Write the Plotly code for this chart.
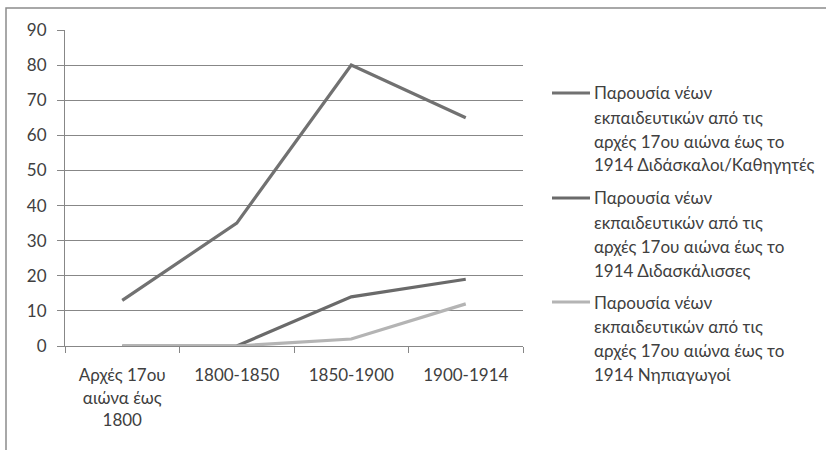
import plotly.graph_objects as go

categories = ["Αρχές 17ου<br>αιώνα έως<br>1800", "1800-1850", "1850-1900", "1900-1914"]
series_names = [
    "Παρουσία νέων εκπαιδευτικών από τις αρχές 17ου αιώνα έως το 1914 Διδάσκαλοι/Καθηγητές",
    "Παρουσία νέων εκπαιδευτικών από τις αρχές 17ου αιώνα έως το 1914 Διδασκάλισσες",
    "Παρουσία νέων εκπαιδευτικών από τις αρχές 17ου αιώνα έως το 1914 Νηπιαγωγοί",
]
legend_lines = [
    ["Παρουσία νέων", "εκπαιδευτικών από τις", "αρχές 17ου αιώνα έως το", "1914 Διδάσκαλοι/Καθηγητές"],
    ["Παρουσία νέων", "εκπαιδευτικών από τις", "αρχές 17ου αιώνα έως το", "1914 Διδασκάλισσες"],
    ["Παρουσία νέων", "εκπαιδευτικών από τις", "αρχές 17ου αιώνα έως το", "1914 Νηπιαγωγοί"],
]
teachers = [13, 35, 80, 65]
female_teachers = [0, 0, 14, 19]
kindergarten = [0, 0, 2, 12]
y_ticks = [0, 10, 20, 30, 40, 50, 60, 70, 80, 90]

series_values = [teachers, female_teachers, kindergarten]
colors = ["#717171", "#6a6a6a", "#b4b4b4"]

W, H = 826, 450
L, T = 65, 30
plot_w, plot_h = 458, 316
R = W - L - plot_w
B = H - T - plot_h

FONT = "Lato, 'Noto Sans', sans-serif"
TXT = "#404040"
GRID = "#878787"

fig = go.Figure()
for name, vals, col in zip(series_names, series_values, colors):
    fig.add_trace(go.Scatter(x=categories, y=vals, mode="lines", name=name,
                             line=dict(color=col, width=3.2), showlegend=False,
                             hoverinfo="skip"))

def px_to_paper_x(px):
    return (px - L) / plot_w

def px_to_paper_y(py):
    return (T + plot_h - py) / plot_h

shapes = []
annotations = []
# outer frame
shapes.append(dict(type="rect", xref="paper", yref="paper",
                   x0=px_to_paper_x(6), x1=px_to_paper_x(900),
                   y0=px_to_paper_y(520), y1=px_to_paper_y(8),
                   line=dict(color="#8c8c8c", width=1.5), fillcolor="rgba(0,0,0,0)"))

leg_first_line = [93, 198, 302]
line_gap = 24
for i, (lines, col) in enumerate(zip(legend_lines, colors)):
    y0 = leg_first_line[i]
    shapes.append(dict(type="line", xref="paper", yref="paper",
                       x0=px_to_paper_x(552), x1=px_to_paper_x(590),
                       y0=px_to_paper_y(y0), y1=px_to_paper_y(y0),
                       line=dict(color=col, width=3.2)))
    for j, t in enumerate(lines):
        annotations.append(dict(text=t, xref="paper", yref="paper",
                                x=px_to_paper_x(592), y=px_to_paper_y(y0 + j * line_gap),
                                xanchor="left", yanchor="middle", showarrow=False,
                                font=dict(family=FONT, size=17, color=TXT)))

fig.update_layout(
    width=W, height=H,
    margin=dict(l=L, r=R, t=T, b=B, autoexpand=False),
    paper_bgcolor="white", plot_bgcolor="white",
    font=dict(family=FONT, size=17, color=TXT),
    shapes=shapes, annotations=annotations,
    showlegend=False,
)
fig.update_xaxes(type="category", showline=True, linecolor=GRID, linewidth=1,
                 ticks="outside", ticklen=6, tickcolor=GRID, tickson="boundaries",
                 showgrid=False, tickfont=dict(family=FONT, size=17, color=TXT),
                 range=[-0.5, 3.5], ticklabelstandoff=14)
fig.update_yaxes(range=[0, 90], tickvals=y_ticks, showline=True, linecolor=GRID, linewidth=1,
                 ticks="outside", ticklen=7, tickcolor=GRID, showgrid=True, gridcolor=GRID,
                 gridwidth=1, zeroline=False, tickfont=dict(family=FONT, size=17, color=TXT),
                 ticklabelstandoff=7)

fig.write_html("out.html", config={"displayModeBar": False},
               post_script="document.body.style.margin='0';document.body.style.overflow='hidden';")
